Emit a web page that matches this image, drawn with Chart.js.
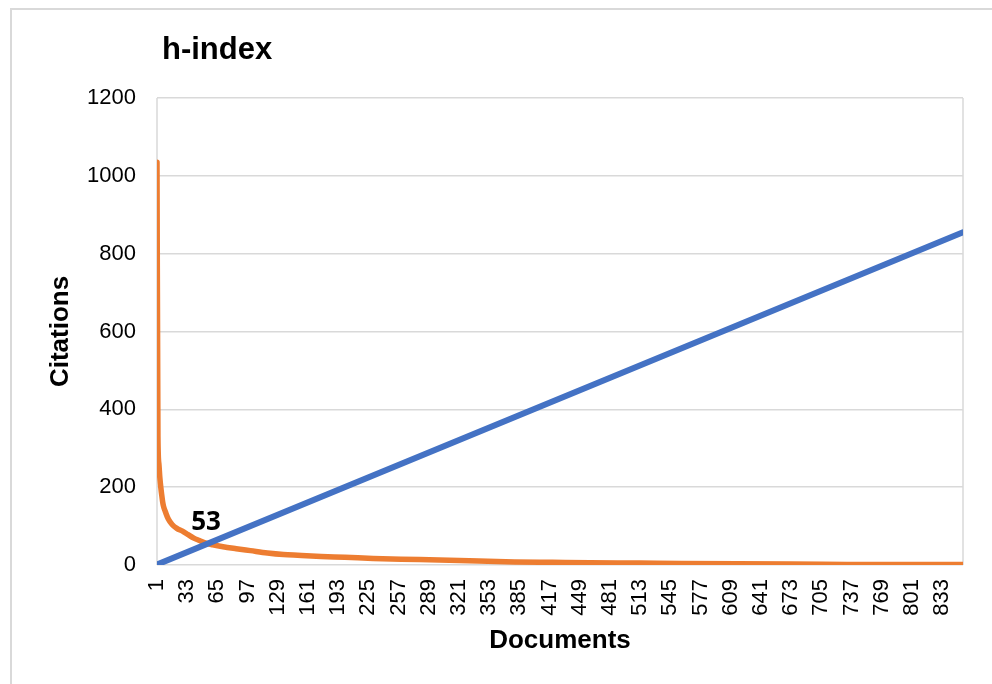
<!DOCTYPE html>
<html>
<head>
<meta charset="utf-8">
<script src="https://cdn.jsdelivr.net/npm/chart.js@4/dist/chart.umd.min.js"></script>
<style>
  html, body { margin: 0; padding: 0; background: #fff; }
  #wrap { position: relative; width: 992px; height: 684px; }
</style>
</head>
<body>
<div id="wrap"><canvas id="chart" width="992" height="684"></canvas></div>
<script>
// h-index chart - citations per document (sorted) against document rank

// document rank range and the rank line (citations = rank)
const documentRange = [1, 855]
const rankLine = [1, 855]

// sorted citations at sample ranks
const citationRanks = [1, 2, 3, 4, 5, 6, 7, 8, 10, 13, 17, 22, 28, 34, 40, 46, 53, 60, 71, 85,
  100, 118, 135, 150, 175, 200, 230, 260, 300, 342, 380, 420, 460, 512, 557, 616, 706, 780, 855]
const citationCounts = [1035, 330, 260, 225, 200, 180, 162, 150, 136, 118, 104, 94, 87, 78, 69, 63, 56, 52, 47, 42,
  37, 31, 27, 25, 22, 20, 17, 15, 13, 10, 8, 7, 6, 5, 4, 3, 2, 1, 1]

const xTickLabels = [1, 33, 65, 97, 129, 161, 193, 225, 257, 289, 321, 353, 385, 417, 449, 481,
  513, 545, 577, 609, 641, 673, 705, 737, 769, 801, 833]
const yTicks = [0, 200, 400, 600, 800, 1000, 1200]
const hIndex = 53

const BLUE = '#4472C4'
const ORANGE = '#ED7D31'
const GRID = '#d9d9d9'
const FONT = "'Liberation Sans', Arial, sans-serif"

const rankPoints = documentRange.map((d, i) => ({ x: d, y: rankLine[i] }))
const citationPoints = citationRanks.map((d, i) => ({ x: d, y: citationCounts[i] }))

// frame, title, plot side borders and the h-index label
const decorations = {
  id: 'decorations',
  beforeDraw(chart) {
    const { ctx, chartArea } = chart
    ctx.save()
    ctx.strokeStyle = GRID
    ctx.lineWidth = 2
    ctx.strokeRect(11, 9, 1010, 710)
    ctx.lineWidth = 1.5
    ctx.beginPath()
    ctx.moveTo(chartArea.left, chartArea.top)
    ctx.lineTo(chartArea.left, chartArea.bottom)
    ctx.moveTo(chartArea.right, chartArea.top)
    ctx.lineTo(chartArea.right, chartArea.bottom)
    ctx.stroke()
    ctx.fillStyle = '#000'
    ctx.font = "bold 31px " + FONT
    ctx.textAlign = 'left'
    ctx.textBaseline = 'middle'
    ctx.fillText('h-index', 162, 50)
    ctx.restore()
  },
  afterDatasetsDraw(chart) {
    const { ctx, scales } = chart
    const x = scales.x.getPixelForValue(hIndex)
    const y = scales.y.getPixelForValue(hIndex)
    ctx.save()
    ctx.fillStyle = '#000'
    ctx.font = "bold 26px 'Noto Sans', 'Open Sans', sans-serif"
    ctx.textAlign = 'center'
    ctx.textBaseline = 'middle'
    ctx.fillText(String(hIndex), x, y - 22)
    ctx.restore()
  }
}

new Chart(document.getElementById('chart'), {
  type: 'line',
  data: {
    datasets: [
      {
        label: 'Documents',
        data: rankPoints,
        borderColor: BLUE,
        borderWidth: 6,
        borderCapStyle: 'round',
        pointRadius: 0,
        tension: 0
      },
      {
        label: 'Citations',
        data: citationPoints,
        borderColor: ORANGE,
        borderWidth: 5.5,
        borderCapStyle: 'round',
        borderJoinStyle: 'round',
        pointRadius: 0,
        cubicInterpolationMode: 'monotone'
      }
    ]
  },
  options: {
    responsive: false,
    animation: false,
    layout: { padding: { top: 98, right: 29, left: 0, bottom: 0 } },
    plugins: {
      legend: { display: false },
      tooltip: { enabled: false }
    },
    scales: {
      x: {
        type: 'linear',
        min: documentRange[0],
        max: documentRange[1],
        afterBuildTicks: (scale) => {
          scale.ticks = xTickLabels.map(v => ({ value: v }))
        },
        afterFit: (scale) => { scale.height = 119 },
        grid: { display: false, drawTicks: false },
        border: { display: false },
        ticks: {
          autoSkip: false,
          minRotation: 90,
          maxRotation: 90,
          padding: 14,
          color: '#000',
          font: { family: FONT, size: 22 },
          callback: (v) => String(v)
        },
        title: {
          display: true,
          text: 'Documents',
          color: '#000',
          font: { family: FONT, size: 26, weight: 'bold', lineHeight: 1 },
          padding: { top: 0, bottom: 30 }
        }
      },
      y: {
        min: 0,
        max: 1200,
        afterBuildTicks: (scale) => {
          scale.ticks = yTicks.map(v => ({ value: v }))
        },
        afterFit: (scale) => { scale.width = 157 },
        grid: { color: GRID, lineWidth: 1.5, drawTicks: false },
        border: { display: false },
        ticks: {
          padding: 21,
          color: '#000',
          font: { family: FONT, size: 22 },
          callback: (v) => String(v)
        },
        title: {
          display: true,
          text: 'Citations',
          color: '#000',
          font: { family: FONT, size: 26, weight: 'bold', lineHeight: 1 },
          padding: { top: 48, bottom: 0 }
        }
      }
    }
  },
  plugins: [decorations]
})
</script>
</body>
</html>
